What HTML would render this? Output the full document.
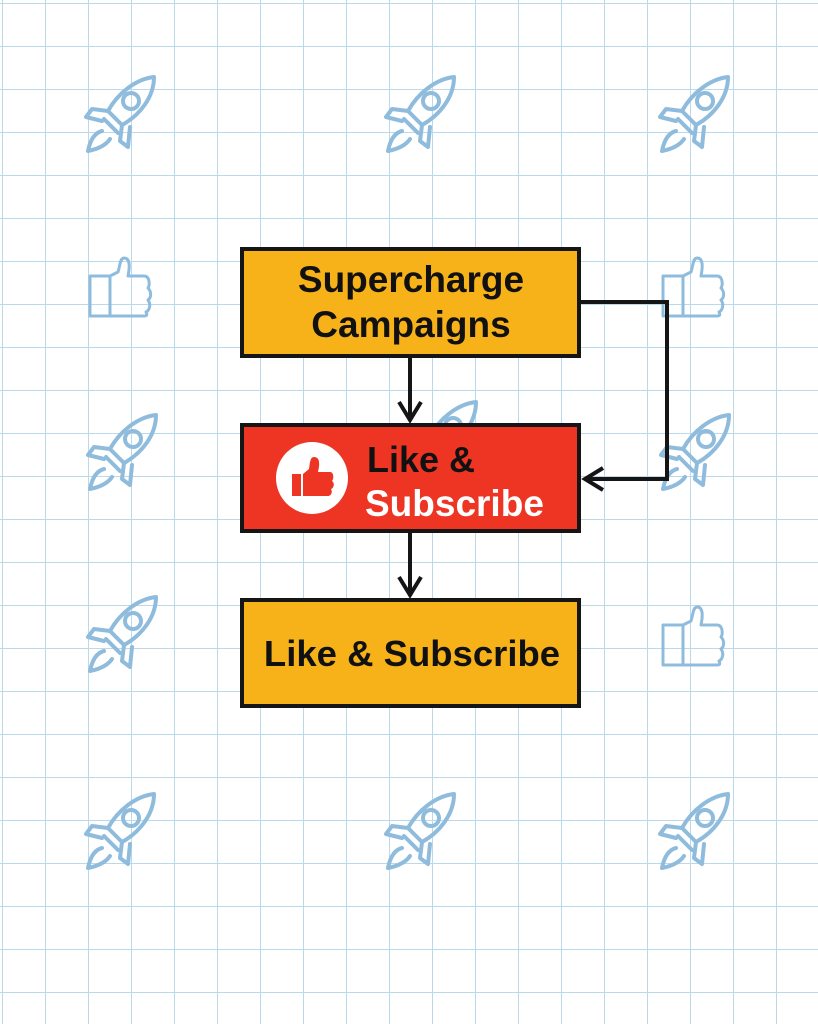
<!DOCTYPE html>
<html><head><meta charset="utf-8"><style>
html,body{margin:0;padding:0;background:#fff;}
body{width:818px;height:1024px;overflow:hidden;position:relative;}
.t{font-family:"Liberation Sans",sans-serif;font-weight:bold;}
</style></head><body>
<svg width="818" height="1024" xmlns="http://www.w3.org/2000/svg" style="position:absolute;left:0;top:0">
<defs>
<pattern id="g" x="2" y="3" width="43" height="43" patternUnits="userSpaceOnUse">
<path d="M0 0H43M0 0V43" stroke="#bcd8eb" stroke-width="2" fill="none"/>
</pattern>
<g id="rocket" fill="none" stroke="#8fbcdc" stroke-width="4" stroke-linejoin="round" stroke-linecap="round">
<path d="M36 -38 C18 -36 0 -22 -10 -4 L4 10 C22 0 36 -18 36 -38 Z"/>
<circle cx="13" cy="-14" r="8"/>
<path d="M-10 -4 L-26 -6 L-32 2 L-16 6"/>
<path d="M4 10 L2 26 L10 32 L12 12"/>
<path d="M-14 4 L0 18"/>
<path d="M-16 16 C-24 18 -28 26 -30 36 C-20 34 -12 30 -8 24"/>
</g>
<g id="thumb" fill="none" stroke="#8fbcdc" stroke-width="3" stroke-linejoin="round">
<rect x="-30" y="-12" width="20" height="40"/>
<path d="M-10 -12 L-2 -16 C0 -22 0 -30 4 -30 C10 -30 10 -22 8 -12 L24 -12 C30 -12 30 -2 28 0 C32 4 31 10 28 12 C31 16 30 22 26 24 C28 28 26 28 22 28 L-10 28 Z"/>
</g>
</defs>
<rect width="818" height="1024" fill="url(#g)"/>
<use href="#rocket" x="118" y="115"/>
<use href="#rocket" x="418" y="115"/>
<use href="#rocket" x="692" y="115"/>
<use href="#thumb" x="120" y="288"/>
<use href="#thumb" x="693" y="288"/>
<use href="#rocket" x="120" y="453"/>
<use href="#rocket" x="693" y="453"/>
<use href="#rocket" x="440" y="440"/>
<use href="#rocket" x="120" y="635"/>
<use href="#thumb" x="693" y="637"/>
<use href="#rocket" x="118" y="832"/>
<use href="#rocket" x="418" y="832"/>
<use href="#rocket" x="692" y="832"/>

<rect x="242" y="249" width="337" height="107" fill="#f7b21a" stroke="#151515" stroke-width="4"/>
<rect x="242" y="425" width="337" height="106" fill="#ee3524" stroke="#151515" stroke-width="4"/>
<rect x="242" y="600" width="337" height="106" fill="#f7b21a" stroke="#151515" stroke-width="4"/>

<g stroke="#151515" stroke-width="4" fill="none" stroke-linejoin="miter">
<path d="M410 358 V420"/><path d="M399 402 L410 420 L421 402"/>
<path d="M410 533 V595"/><path d="M399 577 L410 595 L421 577"/>
<path d="M581 302 H667 V479 H585"/><path d="M603 468 L585 479 L603 490"/>
</g>

<text x="411" y="292" text-anchor="middle" class="t" font-size="37" fill="#111">Supercharge</text>
<text x="411" y="337" text-anchor="middle" class="t" font-size="37" fill="#111">Campaigns</text>

<circle cx="312" cy="478" r="36" fill="#fff"/>
<g fill="#ee3524">
<rect x="292" y="474" width="9" height="22"/>
<path d="M303 474 L309 469 C310 463 310 457 314 457 C320 457 320 464 318 472 L330 472 C334 472 334 479 332 481 C335 483 334 488 331 489 C333 492 331 496 328 496 L303 496 Z"/>
</g>
<text x="367" y="472" class="t" font-size="36" fill="#111">Like &amp;</text>
<text x="365" y="516" class="t" font-size="37" fill="#fff">Subscribe</text>

<text x="412" y="666" text-anchor="middle" class="t" font-size="36.5" fill="#111">Like &amp; Subscribe</text>
</svg>
</body></html>
